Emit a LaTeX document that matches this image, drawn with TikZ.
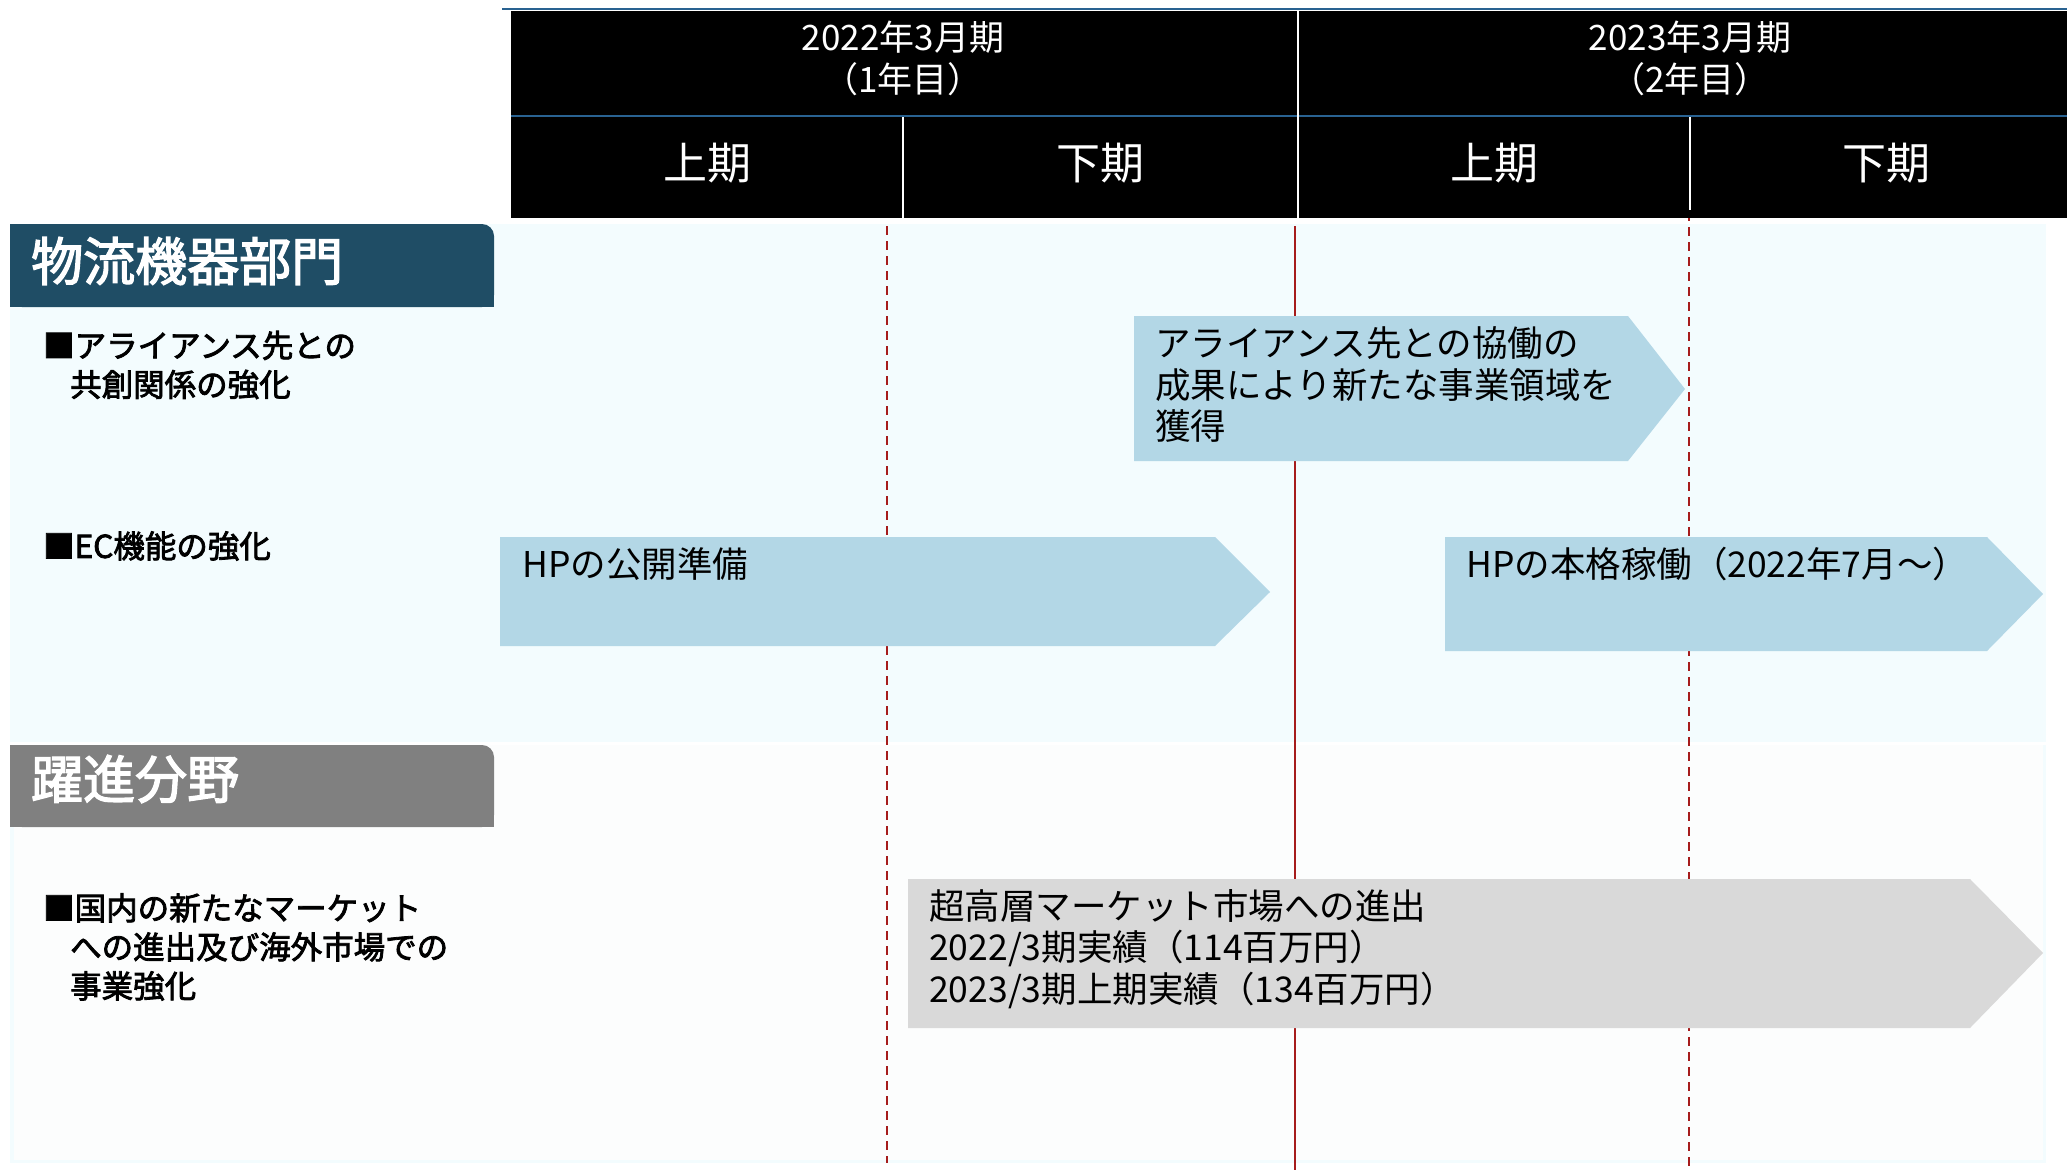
\documentclass[tikz,border=0pt]{standalone}
\usepackage{fontspec}
\setmainfont{Noto Sans CJK JP}[AutoFakeBold=2.5,BoldFeatures={FakeBold=1.8}]
\definecolor{hdrblue}{RGB}{41,98,145}
\definecolor{bgone}{RGB}{243,252,254}
\definecolor{bgtwo}{RGB}{252,253,253}
\definecolor{titleone}{RGB}{31,77,101}
\definecolor{titletwo}{RGB}{128,128,128}
\definecolor{arrblue}{RGB}{179,215,230}
\definecolor{arrgrey}{RGB}{217,217,217}
\definecolor{tlred}{RGB}{166,28,28}
\tikzset{
  yeartext/.style={text=white, font=\fontsize{35}{42}\selectfont, align=center, inner sep=0pt},
  halftext/.style={text=white, font=\fontsize{44}{50}\selectfont, inner sep=0pt},
  sectitle/.style={text=white, font=\bfseries\fontsize{52}{56}\selectfont, anchor=west, inner sep=0pt},
  bullettext/.style={font=\bfseries\fontsize{31.5}{39}\selectfont, anchor=west, align=left, inner sep=0pt},
  arrtext/.style={font=\fontsize{35.5}{41.5}\selectfont, anchor=west, align=left, inner sep=0pt},
  dashline/.style={tlred, line width=2.2pt, dash pattern=on 9pt off 6pt},
  solidline/.style={tlred, line width=2.2pt},
}
\begin{document}
\begin{tikzpicture}[x=1pt,y=-1pt]
\useasboundingbox (0,0) rectangle (2067,1170);
\fill[white] (0,0) rectangle (2067,1170);
% section backgrounds
\fill[bgone] (10,224) rectangle (2046,742);
\fill[bgone] (10,745) rectangle (2046,1163);
\fill[bgtwo] (14,745) rectangle (2043,1160);
% timeline lines
\coordinate (d1t) at (887,226);
\coordinate (d1b) at (887,1163);
\coordinate (s1t) at (1295,226);
\coordinate (s1b) at (1295,1170);
\coordinate (d2t) at (1689,212);
\coordinate (d2b) at (1689,1170);
\draw[dashline] (d1t) -- (d1b);
\draw[solidline] (s1t) -- (s1b);
\draw[dashline] (d2t) -- (d2b);
% header
\fill[black] (511,11) rectangle (2067,218);
\draw[hdrblue, line width=2.5pt] (502,9) -- (2067,9);
\draw[hdrblue, line width=2.5pt] (511,116) -- (2067,116);
\draw[white, line width=2pt] (1298,11) -- (1298,218);
\draw[white, line width=2pt] (903,117) -- (903,218);
\draw[white, line width=2pt] (1690,117) -- (1690,210);
\node[yeartext] (y1) at (903,58) {2022年3月期\\（1年目）};
\node[yeartext] (y2) at (1690,58) {2023年3月期\\（2年目）};
\node[halftext] (h1) at (707,163) {上期};
\node[halftext] (h2) at (1100,163) {下期};
\node[halftext] (h3) at (1494,163) {上期};
\node[halftext] (h4) at (1886,163) {下期};
% section titles
\fill[titleone, rounded corners=12pt] (10,307) -- (10,224) -- (494,224) -- (494,307) -- cycle;
\fill[titleone] (10,260) rectangle (494,307);
\fill[titleone] (10,224) rectangle (470,307);
\node[sectitle] (t1) at (31,261) {物流機器部門};
\fill[titletwo, rounded corners=12pt] (10,827) -- (10,745) -- (494,745) -- (494,827) -- cycle;
\fill[titletwo] (10,780) rectangle (494,827);
\fill[titletwo] (10,745) rectangle (470,827);
\node[sectitle] (t2) at (31,779) {躍進分野};
% bullets
\node[bullettext] (b1) at (43,365) {■アライアンス先との\\\hspace*{27pt}共創関係の強化};
\node[bullettext] (b2) at (43,546) {■EC機能の強化};
\node[bullettext] (b3) at (43,947) {■国内の新たなマーケット\\\hspace*{27pt}への進出及び海外市場での\\\hspace*{27pt}事業強化};
% arrows
\fill[arrblue] (1134,316) -- (1628,316) -- (1685,389) -- (1628,461) -- (1134,461) -- cycle;
\node[arrtext] (a1) at (1155,385) {アライアンス先との協働の\\成果により新たな事業領域を\\獲得};
\fill[arrblue] (500,537) -- (1215,537) -- (1270,592) -- (1215,646) -- (500,646) -- cycle;
\node[arrtext] (a2) at (522,564) {HPの公開準備};
\fill[arrblue] (1445,537) -- (1987,537) -- (2043,594) -- (1987,651) -- (1445,651) -- cycle;
\node[arrtext] (a3) at (1466,564) {HPの本格稼働（2022年7月～）};
\fill[arrgrey] (908,879) -- (1970,879) -- (2043,953) -- (1970,1028) -- (908,1028) -- cycle;
\node[arrtext] (a4) at (929,949) {超高層マーケット市場への進出\\2022/3期実績（114百万円）\\2023/3期上期実績（134百万円）};
\end{tikzpicture}
\end{document}
